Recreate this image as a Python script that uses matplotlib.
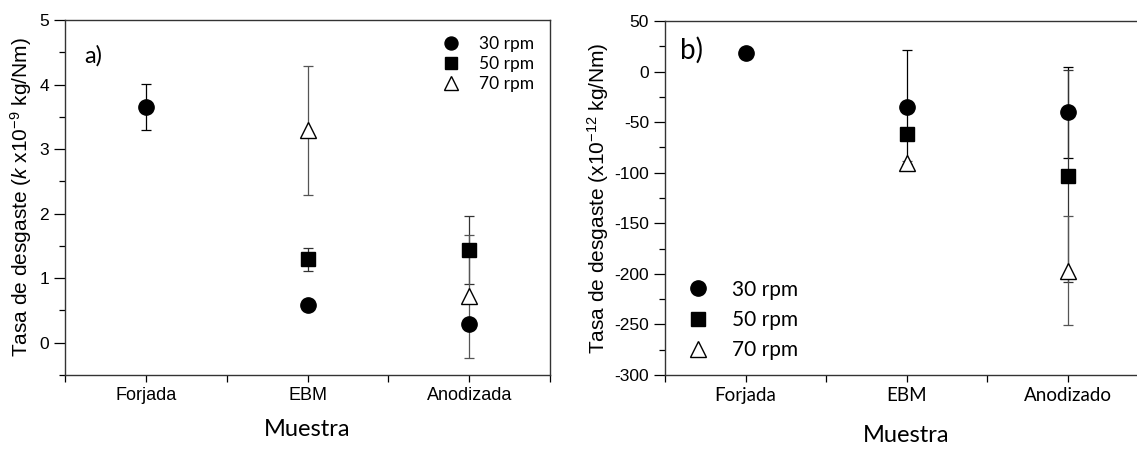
import numpy as np
import matplotlib
matplotlib.use("Agg")
import matplotlib.pyplot as plt
from matplotlib.ticker import MultipleLocator, FixedLocator

ARIAL = "Liberation Sans"
CALIBRI = "Lato"

plt.rcParams["axes.unicode_minus"] = False
plt.rcParams["mathtext.fontset"] = "custom"
plt.rcParams["mathtext.rm"] = ARIAL
plt.rcParams["mathtext.it"] = ARIAL + ":italic"

samples_a = ["Forjada", "EBM", "Anodizada"]
samples_b = ["Forjada", "EBM", "Anodizado"]
speeds = ["30 rpm", "50 rpm", "70 rpm"]

# panel a) k x10^-9 kg/Nm
a_30 = [3.65, 0.59, 0.29]
a_30_err = [0.36, 0.0, 0.0]
a_50 = [np.nan, 1.29, 1.44]
a_50_err = [np.nan, 0.18, 0.53]
a_70 = [np.nan, 3.29, 0.72]
a_70_err = [np.nan, 1.0, 0.95]

# panel b) x10^-12 kg/Nm
b_30 = [18.5, -35, -40]
b_30_err = [0.0, 56, 45]
b_50 = [np.nan, -62, -103]
b_50_err = [np.nan, 0.0, 105]
b_70 = [np.nan, -90, -197]
b_70_err = [np.nan, 2.0, 54]

markers = [dict(marker="o", ms=11, mfc="black", mec="black"),
           dict(marker="s", ms=9.5, mfc="black", mec="black"),
           dict(marker="^", ms=11.5, mfc="white", mec="black", mew=1.0)]
bar_colors = ["black", "#333333", "#555555"]


def draw_panel(ax, series, errors):
    x = np.arange(1, 4)
    for i, (vals, errs) in enumerate(zip(series, errors)):
        ax.errorbar(x, vals, yerr=errs, fmt="none", ecolor=bar_colors[i],
                    elinewidth=0.9, capsize=3.5, capthick=0.9, zorder=2)
    for i, vals in enumerate(series):
        ax.plot(x, vals, ls="none", label=speeds[i], zorder=3, **markers[i])
    ax.set_xlim(0.5, 3.5)
    ax.xaxis.set_major_locator(FixedLocator([1, 2, 3]))
    ax.xaxis.set_minor_locator(FixedLocator([0.5, 1.5, 2.5, 3.5]))
    ax.tick_params(axis="x", which="both", direction="out", length=5, width=0.9)
    ax.tick_params(axis="y", which="major", direction="out", length=8, width=0.9)
    ax.tick_params(axis="y", which="minor", direction="out", length=4, width=0.9)
    for sp in ax.spines.values():
        sp.set_linewidth(1.0)
        sp.set_color("#333333")


fig = plt.figure(figsize=(11.37, 4.51), dpi=100)
ax1 = fig.add_axes([0.0572, 0.1685, 0.4266, 0.7871])
ax2 = fig.add_axes([0.5849, 0.1685, 0.4248, 0.7849])

# a)
draw_panel(ax1, [a_30, a_50, a_70], [a_30_err, a_50_err, a_70_err])
ax1.set_ylim(-0.5, 5)
ax1.yaxis.set_major_locator(MultipleLocator(1))
ax1.yaxis.set_minor_locator(MultipleLocator(0.5))
ax1.set_xticklabels(samples_a, fontsize=13, family=ARIAL)
for t in ax1.get_yticklabels():
    t.set_fontsize(12.5)
    t.set_family(ARIAL)
ax1.set_ylabel(r"Tasa de desgaste ($\mathit{k}$ x10$^{-9}$ kg/Nm)",
               fontsize=15, family=ARIAL, labelpad=4)
ax1.set_xlabel("Muestra", fontsize=17, family=CALIBRI, labelpad=11)
ax1.text(0.04, 0.93, "a)", transform=ax1.transAxes, fontsize=17,
         family=CALIBRI, va="top", ha="left")
ax1.legend(loc="upper right", frameon=False, markerscale=0.85,
           prop=dict(family=CALIBRI, size=12.5), handletextpad=0.9,
           labelspacing=0.25, borderaxespad=0.5, handlelength=1.5)

# b)
draw_panel(ax2, [b_30, b_50, b_70], [b_30_err, b_50_err, b_70_err])
ax2.set_ylim(-300, 50)
ax2.yaxis.set_major_locator(MultipleLocator(50))
ax2.yaxis.set_minor_locator(MultipleLocator(25))
ax2.set_xticklabels(samples_b, fontsize=13.5, family=CALIBRI)
for t in ax2.get_yticklabels():
    t.set_fontsize(12.5)
    t.set_family(ARIAL)
ax2.set_ylabel(r"Tasa de desgaste (x10$^{-12}$ kg/Nm)",
               fontsize=15, family=ARIAL, labelpad=2)
ax2.set_xlabel("Muestra", fontsize=17, family=CALIBRI, labelpad=15)
ax2.text(0.03, 0.955, "b)", transform=ax2.transAxes, fontsize=20,
         family=CALIBRI, va="top", ha="left")
ax2.legend(loc="lower left", frameon=False,
           prop=dict(family=CALIBRI, size=15), handletextpad=0.9,
           labelspacing=0.5, borderaxespad=0.3, handlelength=1.5,
           bbox_to_anchor=(0.005, 0.0))

fig.savefig("out.png", dpi=100)
